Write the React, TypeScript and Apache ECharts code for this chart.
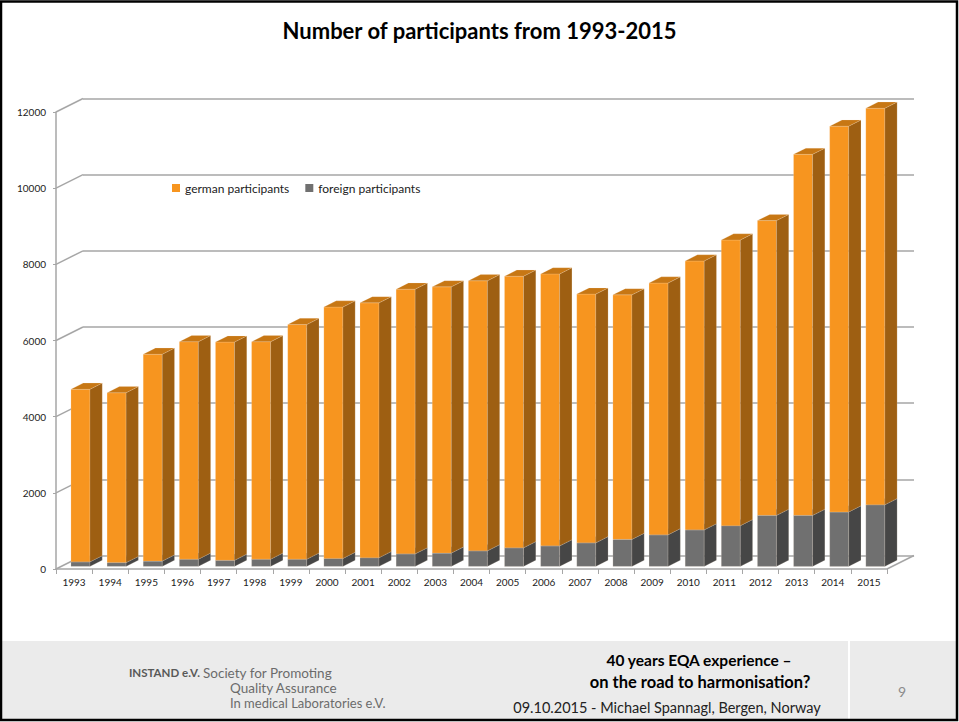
import React, { useEffect, useRef } from "react";
import * as echarts from "echarts";

const years = ["1993","1994","1995","1996","1997","1998","1999","2000","2001","2002","2003","2004","2005","2006","2007","2008","2009","2010","2011","2012","2013","2014","2015"];
const germanParticipants = [4530,4460,5430,5710,5730,5710,6160,6600,6690,6950,6990,7090,7130,7140,6530,6420,6610,7060,7500,7740,9480,10130,10410];
const foreignParticipants = [120,100,140,190,160,190,190,210,230,330,350,410,490,540,620,710,830,960,1070,1340,1340,1430,1620];
const yTicks = [0,2000,4000,6000,8000,10000,12000];

const FONT = "Lato, 'Noto Sans', sans-serif";
const GRID_LEFT = 56, GRID_TOP = 112, GRID_W = 831, GRID_H = 457;
const DEPTH_X = 27, DEPTH_Y = -13.5;
const AXIS_COLOR = "#A6A6A6";

function barRenderer(front: string, side: string, topC: string) {
  return (params: any, api: any) => {
    const idx = api.value(0);
    const base = api.value(1);
    const top = api.value(2);
    const pB = api.coord([idx, base]);
    const pT = api.coord([idx, top]);
    const catW = api.size([1, 0])[0];
    const cx = pB[0] + catW * 0.177;
    const half = catW * 0.263;
    const dx = catW * 0.34;
    const dy = -6.2;
    const off = -2.6;
    const xl = cx - half, xr = cx + half;
    const yb = pB[1] + off, yt = pT[1] + off;
    const stroke = "rgba(255,240,220,0.35)";
    return {
      type: "group",
      children: [
        { type: "rect", shape: { x: xl, y: yt, width: xr - xl, height: yb - yt }, style: { fill: front, stroke, lineWidth: 0.5 } },
        { type: "polygon", shape: { points: [[xr, yt], [xr + dx, yt + dy], [xr + dx, yb + dy], [xr, yb]] }, style: { fill: side, stroke, lineWidth: 0.5 } },
        { type: "polygon", shape: { points: [[xl, yt], [xl + dx, yt + dy], [xr + dx, yt + dy], [xr, yt]] }, style: { fill: topC, stroke, lineWidth: 0.5 } },
      ],
    };
  };
}

export default function App() {
  const ref = useRef<HTMLDivElement>(null);
  useEffect(() => {
    if (!ref.current) return;
    const chart = echarts.init(ref.current, null, { renderer: "svg" });
    const foreignData = years.map((_, i) => [i, 0, foreignParticipants[i]]);
    const germanData = years.map((_, i) => [i, foreignParticipants[i], foreignParticipants[i] + germanParticipants[i]]);
    chart.setOption({
      animation: false,
      backgroundColor: "#ffffff",
      title: {
        text: "Number of participants from 1993-2015",
        left: "center",
        top: 14,
        textStyle: { fontFamily: FONT, fontSize: 22, fontWeight: "bold", color: "#000" },
      },
      legend: {
        data: ["german participants", "foreign participants"],
        left: 167,
        top: 177,
        icon: "rect",
        itemWidth: 8,
        itemHeight: 8,
        itemGap: 16,
        textStyle: { fontFamily: FONT, fontSize: 12, color: "#222" },
      },
      grid: [
        { left: GRID_LEFT, top: GRID_TOP, width: GRID_W, height: GRID_H },
        { left: GRID_LEFT + DEPTH_X, top: GRID_TOP + DEPTH_Y, width: GRID_W, height: GRID_H },
      ],
      xAxis: [
        {
          type: "category",
          gridIndex: 0,
          data: years,
          axisLine: { show: true, lineStyle: { color: AXIS_COLOR, width: 1.5 } },
          axisTick: { show: true, length: 5, lineStyle: { color: AXIS_COLOR } },
          axisLabel: { fontFamily: FONT, fontSize: 10, color: "#222", margin: 8, interval: 0 },
          splitLine: { show: false },
        },
        { type: "category", gridIndex: 1, data: years, show: false },
      ],
      yAxis: [
        {
          type: "value",
          gridIndex: 0,
          min: 0,
          max: 12000,
          interval: 2000,
          axisLine: { show: true, lineStyle: { color: AXIS_COLOR, width: 1.5 } },
          axisTick: { show: true, length: 3, lineStyle: { color: AXIS_COLOR } },
          axisLabel: { fontFamily: FONT, fontSize: 10, color: "#222", margin: 10, formatter: (v: number) => String(v) },
          splitLine: { show: false },
        },
        {
          type: "value",
          gridIndex: 1,
          min: 0,
          max: 12000,
          interval: 2000,
          axisLine: { show: false },
          axisTick: { show: false },
          axisLabel: { show: false },
          splitLine: { show: true, lineStyle: { color: AXIS_COLOR, width: 1.5 } },
        },
      ],
      series: [
        {
          name: "walls",
          type: "custom",
          xAxisIndex: 0,
          yAxisIndex: 0,
          silent: true,
          z: 1,
          data: yTicks.map((v) => [0, v]),
          encode: { x: 0, y: 1 },
          renderItem: (params: any, api: any) => {
            const v = api.value(1);
            const p = api.coord([0, v]);
            const x0 = params.coordSys.x;
            const children: any[] = [
              { type: "line", shape: { x1: x0, y1: p[1], x2: x0 + DEPTH_X, y2: p[1] + DEPTH_Y }, style: { stroke: AXIS_COLOR, lineWidth: 1.5 } },
            ];
            if (v === 0) {
              const x1 = params.coordSys.x + params.coordSys.width;
              children.push({ type: "line", shape: { x1: x1, y1: p[1], x2: x1 + DEPTH_X, y2: p[1] + DEPTH_Y }, style: { stroke: AXIS_COLOR, lineWidth: 1.5 } });
            }
            return { type: "group", children };
          },
        },
        {
          name: "foreign participants",
          type: "custom",
          xAxisIndex: 0,
          yAxisIndex: 0,
          z: 3,
          itemStyle: { color: "#707070" },
          data: foreignData,
          encode: { x: 0, y: [1, 2] },
          renderItem: barRenderer("#707070", "#464646", "#5A5A5A"),
        },
        {
          name: "german participants",
          type: "custom",
          xAxisIndex: 0,
          yAxisIndex: 0,
          z: 4,
          itemStyle: { color: "#F7951F" },
          data: germanData,
          encode: { x: 0, y: [1, 2] },
          renderItem: barRenderer("#F7951F", "#9E5F12", "#C77714"),
        },
      ],
      graphic: [
        { type: "rect", z: -10, shape: { x: 2, y: 641, width: 955, height: 78 }, style: { fill: "#EBEBEB" } },
        { type: "line", z: -5, shape: { x1: 849, y1: 641, x2: 849, y2: 719 }, style: { stroke: "#FFFFFF", lineWidth: 2 } },
        { type: "rect", z: 100, shape: { x: 1, y: 1.5, width: 956, height: 718.5 }, style: { fill: "none", stroke: "#000", lineWidth: 2.5 } },
        { type: "text", x: 200, y: 672, style: { text: "INSTAND e.V.", fontFamily: FONT, fontSize: 11.5, fontWeight: "bold", fill: "#595959", align: "right", verticalAlign: "middle" } },
        { type: "text", x: 203, y: 673, style: { text: "Society for Promoting", fontFamily: FONT, fontSize: 13.5, fill: "#6B6B6B", verticalAlign: "middle" } },
        { type: "text", x: 230, y: 688, style: { text: "Quality Assurance", fontFamily: FONT, fontSize: 13.5, fill: "#6B6B6B", verticalAlign: "middle" } },
        { type: "text", x: 230, y: 703, style: { text: "In medical Laboratories e.V.", fontFamily: FONT, fontSize: 13, fill: "#6B6B6B", verticalAlign: "middle" } },
        { type: "text", x: 699, y: 660, style: { text: "40 years EQA experience –", fontFamily: FONT, fontSize: 15.5, fontWeight: "bold", fill: "#000", align: "center", verticalAlign: "middle" } },
        { type: "text", x: 700, y: 682, style: { text: "on the road to harmonisation?", fontFamily: FONT, fontSize: 16.5, fontWeight: "bold", fill: "#000", align: "center", verticalAlign: "middle" } },
        { type: "text", x: 667, y: 707, style: { text: "09.10.2015 - Michael Spannagl, Bergen, Norway", fontFamily: FONT, fontSize: 14.5, fill: "#222", align: "center", verticalAlign: "middle" } },
        { type: "text", x: 902, y: 691, style: { text: "9", fontFamily: FONT, fontSize: 14, fill: "#8C8C8C", align: "center", verticalAlign: "middle" } },
      ],
    });
    return () => chart.dispose();
  }, []);
  return <div ref={ref} style={{ position: "fixed", left: 0, top: 0, width: 959, height: 722 }} />;
}
